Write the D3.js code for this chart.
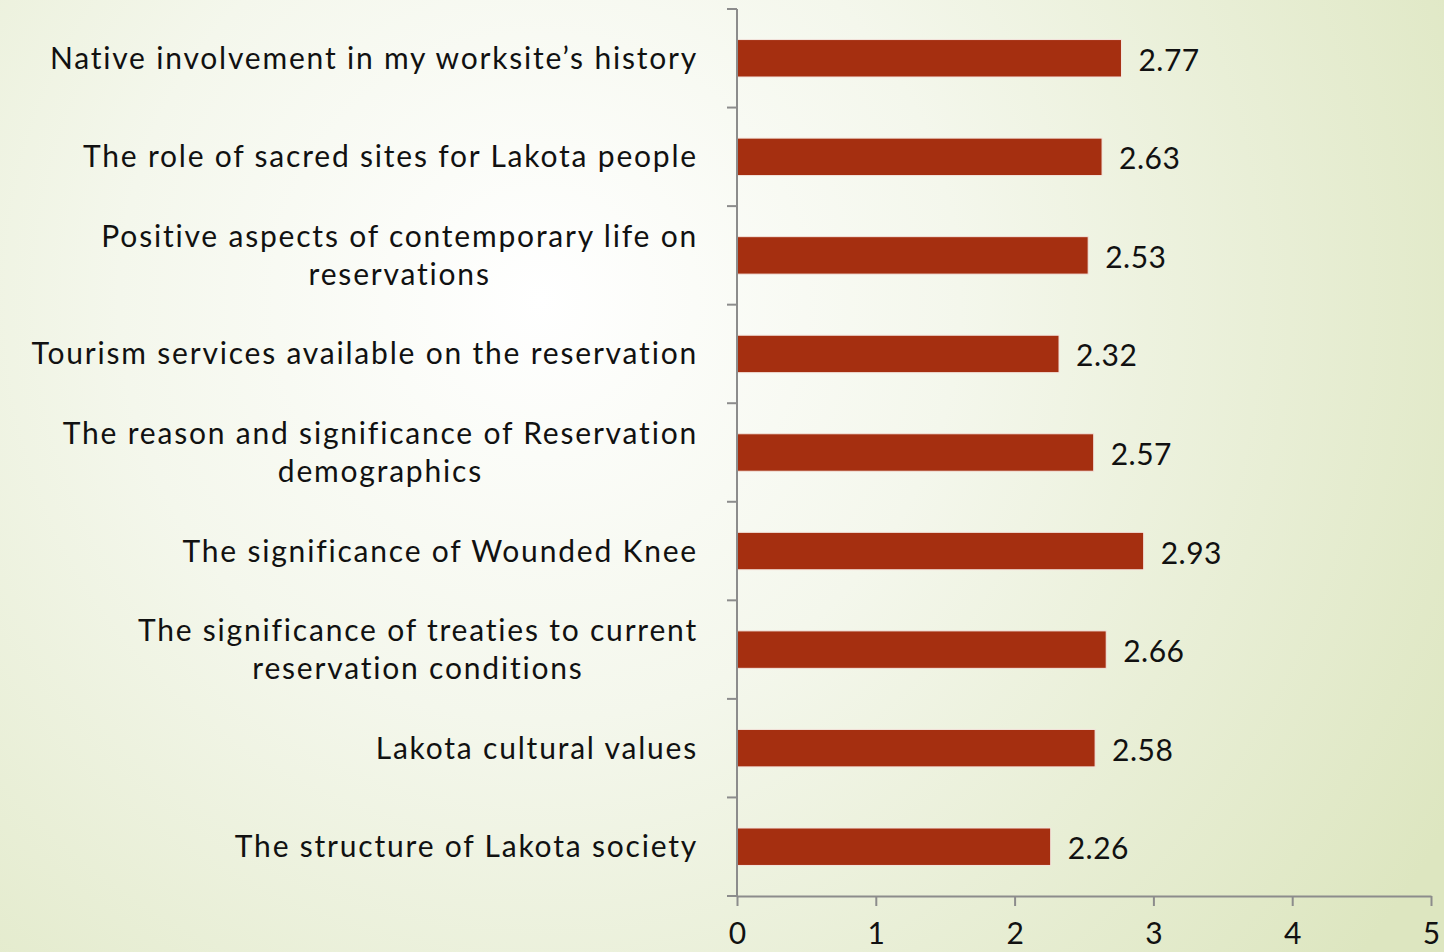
<!DOCTYPE html>
<html>
<head>
<meta charset="utf-8">
<script src="https://cdn.jsdelivr.net/npm/d3@7"></script>
<style>
  html, body { margin: 0; padding: 0; }
  body { width: 1444px; height: 952px; overflow: hidden; }
  text { font-family: Lato, "Open Sans", sans-serif; fill: #111; }
</style>
</head>
<body>
<div id="chart"></div>
<script>
// Plot constants
const WIDTH = 1444;
const HEIGHT = 952;

// Data
const categories = [
  ["Native involvement in my worksite\u2019s history"],
  ["The role of sacred sites for Lakota people"],
  ["Positive aspects of contemporary life on", "reservations"],
  ["Tourism services available on the reservation"],
  ["The reason and significance of Reservation", "demographics"],
  ["The significance of Wounded Knee"],
  ["The significance of treaties to current", "reservation conditions"],
  ["Lakota cultural values"],
  ["The structure of Lakota society"],
];
const values = [2.77, 2.63, 2.53, 2.32, 2.57, 2.93, 2.66, 2.58, 2.26];
const xTicks = [0, 1, 2, 3, 4, 5];

const margin = {top: 9, left: 737, right: 13, bottom: 56};

const svg = d3
  .select("#chart")
  .append("svg")
  .attr("width", WIDTH)
  .attr("height", HEIGHT);

// Background
const defs = svg.append("defs");
const grad = defs
  .append("radialGradient")
  .attr("id", "bg")
  .attr("gradientUnits", "userSpaceOnUse")
  .attr("cx", 540)
  .attr("cy", 300)
  .attr("r", 1050);
grad.append("stop").attr("offset", "0%").attr("stop-color", "#ffffff");
grad.append("stop").attr("offset", "40%").attr("stop-color", "#f4f7ec");
grad.append("stop").attr("offset", "100%").attr("stop-color", "#dde6c0");
svg.append("rect").attr("width", WIDTH).attr("height", HEIGHT).attr("fill", "url(#bg)");

const idx = categories.map((d, i) => i);

const x = d3
  .scaleLinear()
  .domain([0, 5])
  .range([margin.left, WIDTH - margin.right]);

const y = d3
  .scaleBand()
  .domain(idx)
  .range([margin.top, HEIGHT - margin.bottom])
  .paddingInner(0.62)
  .paddingOuter(0.31);

const g = svg.append("g");

// Bars
g.selectAll("rect.bar")
  .data(idx)
  .enter()
  .append("rect")
  .attr("class", "bar")
  .attr("x", x(0))
  .attr("y", (i) => y(i))
  .attr("width", (i) => x(values[i]) - x(0))
  .attr("height", y.bandwidth())
  .attr("fill", "#a52f10")
  .attr("stroke", "#f4e6df")
  .attr("stroke-width", 1);

// Value labels
g.selectAll("text.val")
  .data(idx)
  .enter()
  .append("text")
  .attr("class", "val")
  .attr("x", (i) => x(values[i]) + 17)
  .attr("y", (i) => y(i) + y.bandwidth() / 2 + 2)
  .attr("dy", "0.35em")
  .attr("font-size", "30px")
  .attr("letter-spacing", "0.5px")
  .text((i) => values[i].toFixed(2));

// Axes
const axisColor = "#8c8c8c";
const yTop = margin.top;
const yBottom = HEIGHT - margin.bottom;

const xAxis = g
  .append("g")
  .attr("transform", `translate(0,${yBottom})`)
  .call(
    d3.axisBottom(x)
      .tickValues(xTicks)
      .tickFormat(d3.format("d"))
      .tickSize(10)
      .tickSizeOuter(0)
      .tickPadding(17)
  );
xAxis.select(".domain").attr("stroke", axisColor).attr("stroke-width", 2);
xAxis.selectAll(".tick line").attr("stroke", axisColor).attr("stroke-width", 2);
xAxis
  .selectAll(".tick text")
  .attr("font-size", "30px")
  .attr("font-family", "Lato, sans-serif")
  .attr("fill", "#111");

// Category axis: line with boundary ticks between bands
const boundaries = d3.range(categories.length + 1).map((k) => yTop + k * (yBottom - yTop) / categories.length);
g.append("line")
  .attr("x1", x(0))
  .attr("x2", x(0))
  .attr("y1", yTop)
  .attr("y2", yBottom)
  .attr("stroke", axisColor)
  .attr("stroke-width", 2);
g.selectAll("line.ytick")
  .data(boundaries)
  .enter()
  .append("line")
  .attr("class", "ytick")
  .attr("x1", x(0) - 10)
  .attr("x2", x(0))
  .attr("y1", (d) => d)
  .attr("y2", (d) => d)
  .attr("stroke", axisColor)
  .attr("stroke-width", 2);

// Category labels (right-aligned block, lines centered within block)
const labelRight = x(0) - 39;
const lineH = 38;
idx.forEach((i) => {
  const lines = categories[i];
  const cy = y(i) + y.bandwidth() / 2;
  const grp = g.append("g");
  const texts = lines.map((line, k) =>
    grp
      .append("text")
      .attr("font-size", "30px")
      .attr("letter-spacing", "1.8px")
      .attr("y", cy + (k - (lines.length - 1) / 2) * lineH)
      .attr("dy", "0.35em")
      .attr("text-anchor", "middle")
      .text(line)
  );
  const widths = texts.map((t) => t.node().getComputedTextLength());
  const blockW = d3.max(widths);
  texts.forEach((t) => t.attr("x", labelRight - blockW / 2));
});
</script>
</body>
</html>
